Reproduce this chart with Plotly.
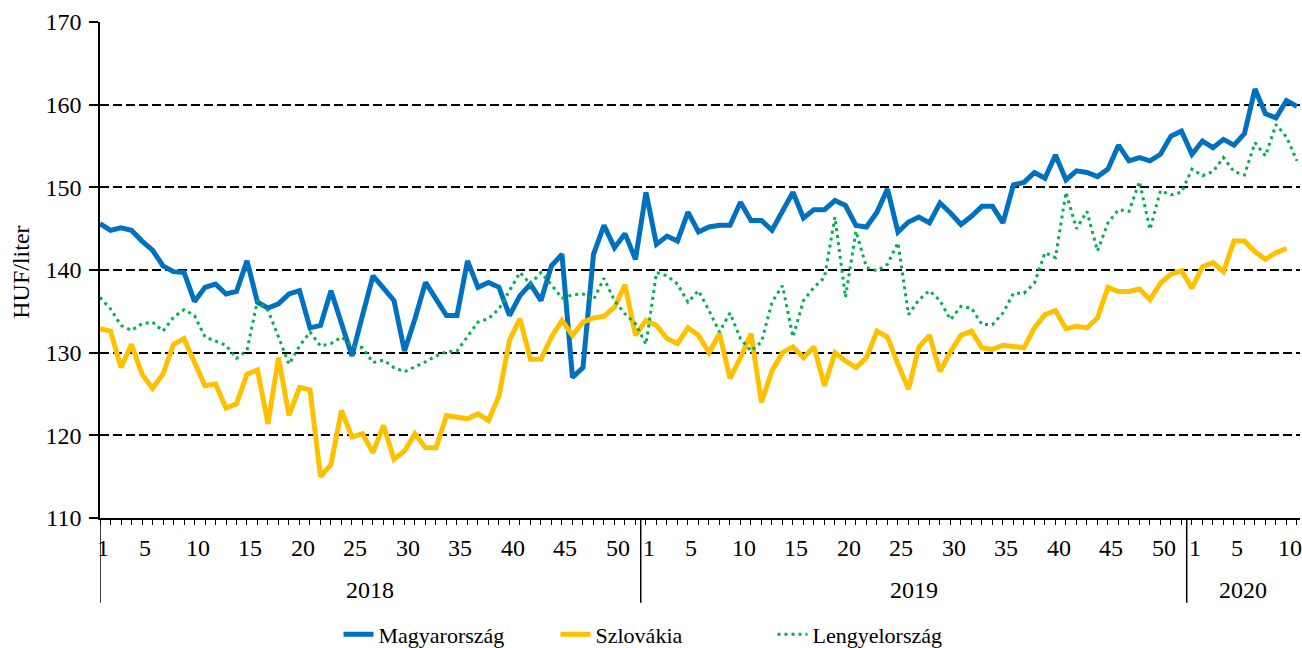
import plotly.graph_objects as go

# ---- data -------------------------------------------------------------
years = [2018, 2019, 2020]
weeks_per_year = [52, 52, 11]
week_labels = ["1", "5", "10", "15", "20", "25", "30", "35", "40", "45", "50"]

magyarorszag = [
    145.6, 144.8, 145.1, 144.8, 143.5, 142.4, 140.5, 139.8, 139.7, 136.2,
    137.9, 138.3, 137.1, 137.4, 141.1, 136.1, 135.4, 135.9, 137.1, 137.5,
    133.0, 133.3, 137.5, 133.5, 129.6, 134.5, 139.3, 137.8, 136.3, 130.2,
    134.1, 138.5, 136.5, 134.5, 134.5, 141.1, 137.9, 138.5, 137.9, 134.5,
    136.9, 138.3, 136.3, 140.5, 141.9, 127.0, 128.2, 141.9, 145.4, 142.7,
    144.4, 141.3,
    149.4, 143.1, 144.1, 143.5, 147.0, 144.6, 145.2, 145.4, 145.4, 148.2,
    146.0, 146.0, 144.8, 147.0, 149.4, 146.3, 147.3, 147.3, 148.4, 147.8,
    145.4, 145.2, 147.0, 149.8, 144.6, 145.8, 146.4, 145.7, 148.1, 146.9,
    145.5, 146.5, 147.7, 147.7, 145.7, 150.3, 150.6, 151.8, 151.1, 153.9,
    150.9, 152.0, 151.8, 151.3, 152.2, 155.1, 153.2, 153.6, 153.2, 154.0,
    156.2, 156.8,
    154.0, 155.6, 154.8, 155.8, 155.1, 156.5, 161.9, 158.9, 158.4, 160.5,
    159.8,
]

szlovakia = [
    132.9, 132.6, 128.2, 131.0, 127.4, 125.7, 127.4, 131.0, 131.7, 129.0,
    126.0, 126.2, 123.3, 123.8, 127.4, 127.9, 121.4, 129.4, 122.4, 125.8,
    125.5, 115.0, 116.5, 123.0, 119.8, 120.2, 117.9, 121.2, 117.1, 118.1,
    120.2, 118.5, 118.5, 122.4, 122.2, 122.0, 122.6, 121.8, 124.8, 131.5,
    134.1, 129.2, 129.2, 131.9, 133.9, 132.1, 133.7, 134.2, 134.4, 135.5,
    138.2, 132.1,
    133.9, 133.3, 131.7, 131.1, 133.0, 132.1, 130.0, 132.3, 126.9, 129.4,
    132.3, 124.0, 127.8, 130.0, 130.7, 129.4, 130.7, 126.0, 130.0, 129.0,
    128.2, 129.4, 132.6, 131.9, 128.6, 125.6, 130.7, 132.1, 127.7, 130.1,
    132.1, 132.6, 130.6, 130.4, 130.9, 130.7, 130.6, 133.0, 134.6, 135.1,
    132.9, 133.2, 133.0, 134.2, 137.9, 137.4, 137.4, 137.7, 136.4, 138.4,
    139.5, 139.9,
    137.8, 140.4, 140.9, 139.8, 143.5, 143.5, 142.2, 141.3, 142.1, 142.6,
]

lengyelorszag = [
    136.7, 135.3, 133.3, 132.7, 133.5, 133.7, 132.6, 134.3, 135.2, 134.5,
    131.9, 131.4, 130.9, 129.3, 130.3, 136.3, 135.1, 131.9, 128.6, 130.8,
    132.5, 130.8, 131.1, 131.9, 130.8, 130.6, 128.8, 129.1, 128.2, 127.7,
    128.3, 128.9, 129.6, 130.1, 130.2, 131.9, 133.7, 134.1, 135.3, 137.5,
    139.7, 138.3, 139.7, 138.2, 136.6, 137.0, 137.1, 136.4, 139.0, 136.3,
    134.7, 133.5,
    131.0, 139.7, 139.3, 138.3, 136.1, 137.5, 135.1, 132.5, 134.8, 131.7,
    130.2, 131.3, 136.1, 138.1, 131.9, 136.3, 137.9, 139.1, 146.4, 136.7,
    144.7, 140.3, 139.9, 140.7, 143.3, 134.6, 136.4, 137.5, 136.3, 134.0,
    135.6, 135.4, 133.4, 133.4, 134.8, 137.2, 137.2, 138.4, 142.1, 141.5,
    149.4, 145.0, 147.1, 142.3, 145.7, 147.3, 147.1, 150.7, 144.9, 149.6,
    149.1, 149.4,
    152.2, 151.4, 151.9, 153.6, 151.9, 151.5, 155.4, 153.8, 157.6, 156.1,
    153.2,
]

# ---- positions on the category axis ----------------------------------
n_total = sum(weeks_per_year)
x_all = list(range(n_total))
year_start = []
s = 0
for n in weeks_per_year:
    year_start.append(s)
    s += n

FONT = "Liberation Serif"
BLUE = "#0070C0"
YELLOW = "#FFC000"
GREEN = "#00B050"
FS = 24

fig = go.Figure()
fig.add_trace(go.Scatter(x=x_all[:len(magyarorszag)], y=magyarorszag, mode="lines",
                         name="Magyarország", line=dict(color=BLUE, width=5)))
fig.add_trace(go.Scatter(x=x_all[:len(szlovakia)], y=szlovakia, mode="lines",
                         name="Szlovákia", line=dict(color=YELLOW, width=5)))
fig.add_trace(go.Scatter(x=x_all[:len(lengyelorszag)], y=lengyelorszag, mode="lines",
                         name="Lengyelország",
                         line=dict(color=GREEN, width=3, dash="3px,4px")))

x_max = 114.29

annotations = []
# week labels
for yi, (st, n) in enumerate(zip(year_start, weeks_per_year)):
    for lab in week_labels:
        w = int(lab)
        if w <= n:
            annotations.append(dict(x=st + w - 1 + 0.3, y=-0.0605, xref="x", yref="paper",
                                    text=lab, showarrow=False, xanchor="center",
                                    yanchor="middle",
                                    font=dict(family=FONT, size=FS, color="black")))
# year labels
bounds = [0] + [st - 0.5 for st in year_start[1:]] + [x_max]
for yi, yr in enumerate(years):
    annotations.append(dict(x=(bounds[yi] + bounds[yi + 1]) / 2, y=-0.146, xref="x",
                            yref="paper", text=str(yr), showarrow=False,
                            xanchor="center", yanchor="middle",
                            font=dict(family=FONT, size=FS, color="black")))
# y title
annotations.append(dict(x=-0.066, y=0.496, xref="paper", yref="paper", text="HUF/liter",
                        showarrow=False, textangle=-90, xanchor="center", yanchor="middle",
                        font=dict(family=FONT, size=FS, color="black")))

shapes = []
for b in bounds[:-1]:
    shapes.append(dict(type="line", xref="x", yref="paper", x0=b, x1=b, y0=0, y1=-0.171,
                       line=dict(color="black", width=1.5)))

fig.update_layout(
    width=1302, height=648,
    margin=dict(l=100, r=2, t=22, b=130, autoexpand=False),
    paper_bgcolor="white", plot_bgcolor="white",
    font=dict(family=FONT, size=FS, color="black"),
    xaxis=dict(range=[0, x_max], showgrid=False, zeroline=False, showline=True,
               linecolor="black", linewidth=1.5, tickmode="array", tickvals=x_all,
               ticks="outside", ticklen=5, tickwidth=1, tickcolor="black",
               showticklabels=False),
    yaxis=dict(range=[110, 170], tickmode="array", tickvals=[110, 120, 130, 140, 150, 160, 170],
               showgrid=True, gridcolor="black", gridwidth=1.5, griddash="9px,4px",
               zeroline=False, showline=True, linecolor="black", linewidth=1.5,
               ticks="outside", ticklen=9, tickwidth=1.5, tickcolor="black",
               ticklabelstandoff=3,
               tickfont=dict(family=FONT, size=FS, color="black")),
    legend=dict(orientation="h", x=0.47, xanchor="center", y=-0.235, yanchor="middle",
                font=dict(family=FONT, size=22, color="black"), entrywidth=172,
                bgcolor="rgba(0,0,0,0)"),
    annotations=annotations,
    shapes=shapes,
)

fig.write_html("out.html", config={"displayModeBar": False},
               post_script="document.body.style.margin='0';document.body.style.overflow='hidden';")
